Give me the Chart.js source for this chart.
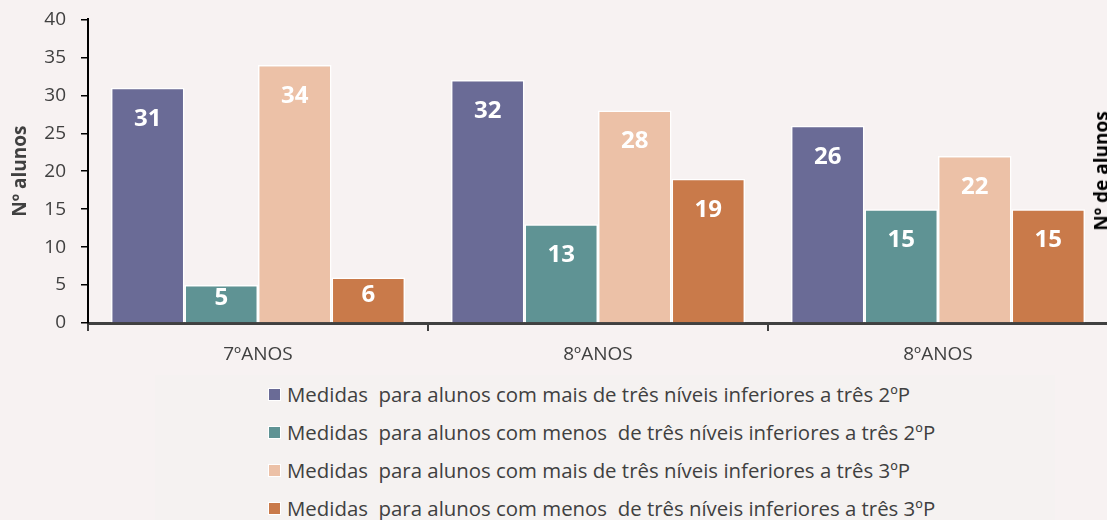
<!DOCTYPE html>
<html>
<head>
<meta charset="utf-8">
<script src="https://cdn.jsdelivr.net/npm/chart.js@4"></script>
<style>
  html, body { margin: 0; padding: 0; background: #f7f2f2; overflow: hidden; }
  body { width: 1107px; height: 520px; position: relative; font-family: 'Open Sans', sans-serif; }
  #wrap { position: absolute; left: 0; top: -7px; width: 1140px; height: 382px; }
  #legend { position: absolute; left: 155px; top: 375px; width: 900px; height: 150px; background: #f5f2f1; }
  .item { position: absolute; left: 113px; height: 30px; display: flex; align-items: center; color: #404040; font-size: 20.4px; white-space: pre; }
  .item span.box { width: 11px; height: 11px; margin-right: 6px; border: 1px solid #fff; }
  #ytitle2 { position: absolute; left: 1101px; top: 171px; transform: translate(-50%, -50%) rotate(-90deg); font-weight: bold; font-size: 19px; color: #000; white-space: nowrap; }
</style>
</head>
<body>
<div id="wrap"><canvas id="chart"></canvas></div>
<div id="ytitle2">Nº de alunos</div>
<div id="legend"></div>
<script>
const categories = ['7ºANOS', '8ºANOS', '8ºANOS'];
const seriesNames = [
  'Medidas  para alunos com mais de três níveis inferiores a três 2ºP',
  'Medidas  para alunos com menos  de três níveis inferiores a três 2ºP',
  'Medidas  para alunos com mais de três níveis inferiores a três 3ºP',
  'Medidas  para alunos com menos  de três níveis inferiores a três 3ºP'
];
const mais2P = [31, 32, 26];
const menos2P = [5, 13, 15];
const mais3P = [34, 28, 22];
const menos3P = [6, 19, 15];
const colors = ['#6a6b96', '#5f9394', '#ecc1a7', '#c97a4a'];
const yTicks = [0, 5, 10, 15, 20, 25, 30, 35, 40];

const series = [mais2P, menos2P, mais3P, menos3P];

// white value labels near the top inside each bar
const barLabels = {
  id: 'barLabels',
  afterDatasetsDraw(chart) {
    const ctx = chart.ctx;
    ctx.save();
    ctx.fillStyle = '#fff';
    ctx.font = 'bold 24px "Open Sans"';
    ctx.textAlign = 'center';
    ctx.textBaseline = 'middle';
    chart.data.datasets.forEach((ds, i) => {
      chart.getDatasetMeta(i).data.forEach((bar, j) => {
        const h = bar.base - bar.y;
        const ly = bar.y + Math.min(31, h / 2 - 5);
        ctx.fillText(ds.data[j], bar.x, ly);
      });
    });
    ctx.restore();
  }
};

new Chart(document.getElementById('chart'), {
  type: 'bar',
  data: {
    labels: categories,
    datasets: series.map((d, i) => ({
      label: seriesNames[i],
      data: d,
      backgroundColor: colors[i],
      borderColor: '#ffffff',
      borderWidth: 1.5,
      borderSkipped: 'bottom',
      categoryPercentage: 0.865,
      barPercentage: 1.0
    }))
  },
  options: {
    responsive: true,
    maintainAspectRatio: false,
    animation: false,
    layout: { padding: { left: 0, right: 32, top: 0, bottom: 0 } },
    plugins: { legend: { display: false }, tooltip: { enabled: false } },
    scales: {
      x: {
        grid: { offset: true, drawOnChartArea: false, drawTicks: true, tickLength: 8, color: '#404040', lineWidth: 2 },
        border: { color: '#404040', width: 3 },
        ticks: { color: '#404040', font: { family: 'Open Sans', size: 19 }, padding: 12 },
        afterFit(s) { s.height = 52; }
      },
      y: {
        min: 0, max: 40,
        afterBuildTicks(s) { s.ticks = yTicks.map(v => ({ value: v })); },
        grid: { drawOnChartArea: false, drawTicks: true, tickLength: 7, color: '#000', lineWidth: 1.5 },
        border: { color: '#000', width: 2 },
        ticks: { color: '#404040', font: { family: 'Open Sans', size: 19 }, padding: 15 },
        title: { display: true, text: 'Nº alunos', color: '#404040', font: { family: 'Open Sans', size: 19, weight: 'bold' }, padding: { top: 9, bottom: 0 } },
        afterFit(s) { s.width = 88; }
      }
    }
  },
  plugins: [barLabels]
});

const legend = document.getElementById('legend');
seriesNames.forEach((name, i) => {
  const row = document.createElement('div');
  row.className = 'item';
  row.style.top = (4 + i * 38) + 'px';
  const box = document.createElement('span');
  box.className = 'box';
  box.style.background = colors[i];
  const txt = document.createElement('span');
  txt.textContent = name;
  row.appendChild(box);
  row.appendChild(txt);
  legend.appendChild(row);
});
</script>
</body>
</html>
